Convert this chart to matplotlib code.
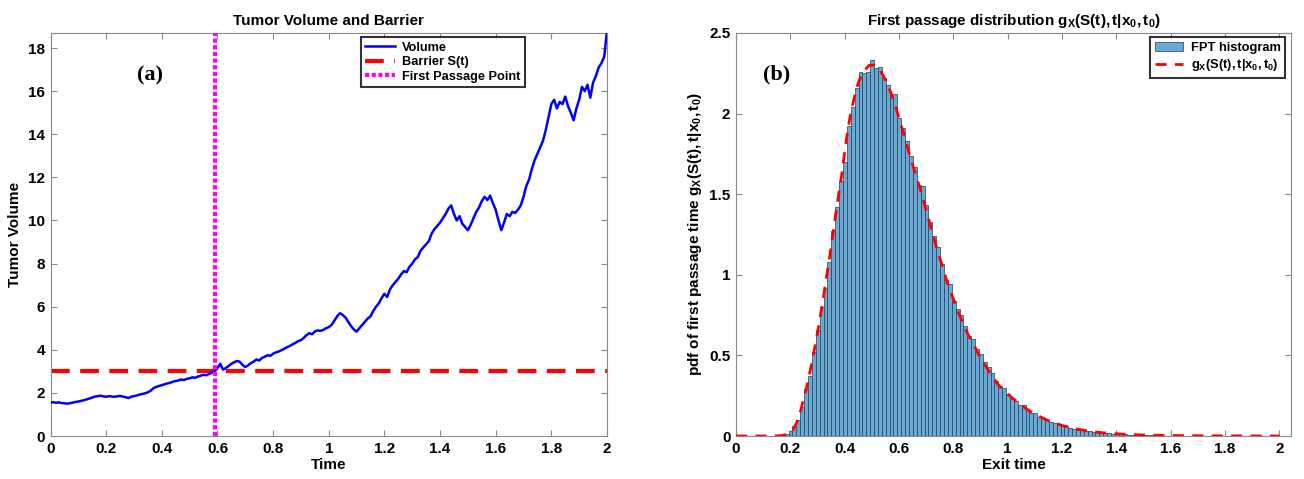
import numpy as np
import matplotlib
matplotlib.use("Agg")
import matplotlib.pyplot as plt

plt.rcParams['font.family'] = ['Liberation Sans', 'DejaVu Sans']
plt.rcParams['mathtext.fontset'] = 'custom'
plt.rcParams['mathtext.rm'] = 'Liberation Sans'
plt.rcParams['mathtext.bf'] = 'Liberation Sans:bold'
plt.rcParams['mathtext.it'] = 'Liberation Sans:italic'

# ---------------- Panel (a) data ----------------
time = [round(0.01 * i, 2) for i in range(201)]
volume = [
    1.55, 1.57, 1.54, 1.56, 1.53, 1.52, 1.50, 1.52, 1.55, 1.58,
    1.60, 1.63, 1.66, 1.70, 1.74, 1.78, 1.83, 1.85, 1.87, 1.84,
    1.82, 1.85, 1.83, 1.82, 1.84, 1.86, 1.83, 1.80, 1.76, 1.82,
    1.85, 1.88, 1.92, 1.95, 1.98, 2.03, 2.10, 2.22, 2.28, 2.32,
    2.36, 2.40, 2.44, 2.47, 2.52, 2.55, 2.58, 2.62, 2.60, 2.65,
    2.68, 2.72, 2.70, 2.76, 2.80, 2.84, 2.82, 2.88, 2.94, 3.00,
    3.15, 3.35, 3.08, 3.15, 3.25, 3.35, 3.42, 3.48, 3.45, 3.30,
    3.20, 3.28, 3.38, 3.45, 3.55, 3.50, 3.62, 3.68, 3.75, 3.72,
    3.82, 3.88, 3.92, 3.98, 4.05, 4.12, 4.18, 4.25, 4.32, 4.40,
    4.45, 4.55, 4.68, 4.77, 4.72, 4.85, 4.90, 4.88, 4.92, 5.00,
    5.05, 5.15, 5.35, 5.55, 5.70, 5.62, 5.50, 5.30, 5.10, 4.95,
    4.84, 5.00, 5.15, 5.30, 5.45, 5.55, 5.80, 6.00, 6.16, 6.40,
    6.60, 6.45, 6.80, 7.00, 7.15, 7.30, 7.50, 7.65, 7.60, 7.85,
    8.00, 8.20, 8.30, 8.60, 8.75, 8.90, 9.05, 9.40, 9.60, 9.75,
    9.90, 10.10, 10.30, 10.55, 10.70, 10.30, 10.00, 10.20, 9.85, 9.70,
    9.55, 9.80, 10.10, 10.40, 10.60, 10.90, 11.10, 10.95, 11.15, 10.80,
    10.50, 10.00, 9.55, 9.90, 10.30, 10.20, 10.40, 10.35, 10.50, 10.70,
    11.10, 11.60, 11.90, 12.40, 12.80, 13.10, 13.40, 13.70, 14.20, 14.80,
    15.40, 15.60, 15.20, 15.50, 15.40, 15.75, 15.30, 15.00, 14.65, 15.20,
    15.60, 16.20, 16.00, 16.30, 15.70, 16.40, 16.70, 17.10, 17.30, 17.60,
    18.80,
]
barrier_level = 3.0
first_passage_time = 0.59

# ---------------- Panel (b) data ----------------
bin_start = 0.165
bin_width = 0.0143
fpt_heights = [
    0.005, 0.012, 0.030, 0.060, 0.100, 0.180, 0.290, 0.370, 0.520, 0.660,
    0.800, 0.920, 1.080, 1.270, 1.420, 1.580, 1.700, 1.920, 2.040, 2.160,
    2.260, 2.250, 2.260, 2.330, 2.280, 2.290, 2.220, 2.180, 2.100, 2.120,
    1.970, 1.910, 1.830, 1.740, 1.670, 1.560, 1.550, 1.430, 1.330, 1.240,
    1.170, 1.070, 0.970, 0.940, 0.840, 0.790, 0.750, 0.680, 0.620, 0.600,
    0.540, 0.510, 0.460, 0.430, 0.390, 0.340, 0.310, 0.300, 0.260, 0.230,
    0.220, 0.190, 0.190, 0.160, 0.140, 0.140, 0.120, 0.110, 0.100, 0.085,
    0.080, 0.072, 0.063, 0.060, 0.052, 0.046, 0.040, 0.038, 0.032, 0.030,
    0.026, 0.022, 0.020, 0.017, 0.016, 0.014, 0.012, 0.011, 0.010, 0.009,
    0.008, 0.007, 0.006, 0.005, 0.005, 0.004, 0.004, 0.003, 0.003, 0.002,
    0.002, 0.002, 0.001, 0.001, 0.001,
]
pdf_t = [0.00, 0.10, 0.15, 0.17, 0.19, 0.20, 0.21, 0.22, 0.23, 0.24, 0.25, 0.26,
         0.27, 0.28, 0.29, 0.30, 0.31, 0.32, 0.33, 0.34, 0.35, 0.36, 0.37,
         0.38, 0.39, 0.40, 0.41, 0.42, 0.43, 0.44, 0.45, 0.46, 0.47, 0.48,
         0.49, 0.50, 0.51, 0.52, 0.53, 0.54, 0.55, 0.56, 0.57, 0.58, 0.59,
         0.60, 0.62, 0.64, 0.66, 0.68, 0.70, 0.72, 0.74, 0.76, 0.78, 0.80,
         0.82, 0.84, 0.86, 0.88, 0.90, 0.92, 0.94, 0.96, 0.98, 1.00, 1.05,
         1.10, 1.15, 1.20, 1.25, 1.30, 1.35, 1.40, 1.45, 1.50, 1.60, 1.70,
         1.80, 2.00]
pdf_g = [0.0, 0.0, 0.0005, 0.003, 0.012, 0.025, 0.04, 0.07, 0.11, 0.17, 0.24, 0.30,
         0.38, 0.46, 0.55, 0.64, 0.74, 0.84, 0.95, 1.06, 1.17, 1.29, 1.41,
         1.52, 1.63, 1.76, 1.88, 1.98, 2.06, 2.13, 2.19, 2.23, 2.26, 2.28,
         2.30, 2.30, 2.30, 2.29, 2.27, 2.24, 2.21, 2.17, 2.13, 2.08, 2.03,
         1.97, 1.86, 1.74, 1.63, 1.52, 1.40, 1.28, 1.16, 1.05, 0.94, 0.85,
         0.76, 0.68, 0.61, 0.55, 0.48, 0.43, 0.38, 0.33, 0.29, 0.26, 0.19,
         0.135, 0.095, 0.065, 0.045, 0.030, 0.020, 0.014, 0.009, 0.006, 0.003, 0.0015,
         0.0007, 0.0002]

# ---------------- Figure ----------------
fig = plt.figure(figsize=(13.04, 4.79), dpi=100)
axa = fig.add_axes([50.5 / 1304, 1 - 436 / 479, (607 - 50.5) / 1304, (436 - 33) / 479])
axb = fig.add_axes([736 / 1304, 1 - 436 / 479, (1291 - 736) / 1304, (436 - 33) / 479])

spine_col = '#8a8a8a'
for ax in (axa, axb):
    for s in ax.spines.values():
        s.set_color(spine_col)
        s.set_linewidth(0.8)
    ax.tick_params(direction='in', top=True, right=True, color=spine_col,
                   length=4, width=0.8, labelsize=11, pad=4)

# Panel (a)
axa.plot(time, volume, color='#0000ff', lw=1.8, label='Volume', zorder=3)
axa.axhline(barrier_level, color='#ff0000', lw=3, ls=(0, (4.5, 2.5)), label='Barrier S(t)', zorder=2)
axa.axvline(first_passage_time, color='#ff00ff', lw=3, ls=(0, (1, 0.6)), label='First Passage Point', zorder=4)
axa.set_xlim(0, 2)
axa.set_ylim(0, 18.7)
axa.set_xticks(np.arange(0, 2.01, 0.2))
axa.set_xticklabels(['0', '0.2', '0.4', '0.6', '0.8', '1', '1.2', '1.4', '1.6', '1.8', '2'])
axa.set_yticks(np.arange(0, 18.1, 2))
axa.set_xlabel('Time', fontsize=11, fontweight='bold', labelpad=2)
axa.set_ylabel('Tumor Volume', fontsize=11, fontweight='bold', labelpad=4)
axa.set_title('Tumor Volume and Barrier', fontsize=11, fontweight='bold', pad=6)
axa.text(0.31, 16.75, '(a)', fontsize=16, fontweight='bold', family='Liberation Serif',
         ha='left', va='center')
lega = axa.legend(loc='upper right', bbox_to_anchor=(0.853, 0.99), fontsize=9.2,
                  frameon=True, fancybox=False, handlelength=2.3, borderpad=0.35,
                  labelspacing=0.2, handletextpad=0.6, borderaxespad=0)
lega.get_frame().set_edgecolor('black')
lega.get_frame().set_linewidth(1.5)
for t in lega.get_texts():
    t.set_fontweight('bold')

# Panel (b)
lefts = [bin_start + i * bin_width for i in range(len(fpt_heights))]
bars = axb.bar(lefts, fpt_heights, width=bin_width, align='edge', color='#66aad7',
               edgecolor='#2b3b4c', linewidth=0.5, label='FPT histogram', zorder=2)
pdf_line, = axb.plot(pdf_t, pdf_g, color='#ff0000', lw=2, ls=(0, (4, 3)),
                     label=r'$\mathbf{g_X(S(t),t|x_0,t_0)}$', zorder=3)
axb.set_xlim(0, 2.043)
axb.set_ylim(0, 2.5)
axb.set_xticks(np.arange(0, 2.01, 0.2))
axb.set_xticklabels(['0', '0.2', '0.4', '0.6', '0.8', '1', '1.2', '1.4', '1.6', '1.8', '2'])
axb.set_yticks([0, 0.5, 1, 1.5, 2, 2.5])
axb.set_yticklabels(['0', '0.5', '1', '1.5', '2', '2.5'])
axb.set_xlabel('Exit time', fontsize=11, fontweight='bold', labelpad=2)
axb.set_ylabel(r'pdf of first passage time $\mathbf{g_X(S(t),t|x_0,t_0)}$',
               fontsize=11, fontweight='bold', labelpad=4)
axb.set_title(r'First passage distribution $\mathbf{g_X(S(t),t|x_0,t_0)}$',
              fontsize=11, fontweight='bold', pad=6)
axb.text(0.10, 2.24, '(b)', fontsize=16, fontweight='bold', family='Liberation Serif',
         ha='left', va='center')
legb = axb.legend([bars, pdf_line], ['FPT histogram', r'$\mathbf{g_X(S(t),t|x_0,t_0)}$'],
                  loc='upper right', bbox_to_anchor=(0.99, 0.99), fontsize=9.3,
                  frameon=True, fancybox=False, handlelength=2.2, borderpad=0.35,
                  labelspacing=0.3, handletextpad=0.6, borderaxespad=0)
legb.get_frame().set_edgecolor('black')
legb.get_frame().set_linewidth(1.5)
for t in legb.get_texts():
    t.set_fontweight('bold')

for ax in (axa, axb):
    for lab in ax.get_xticklabels() + ax.get_yticklabels():
        lab.set_fontweight('bold')

fig.savefig('out.png', dpi=100)
